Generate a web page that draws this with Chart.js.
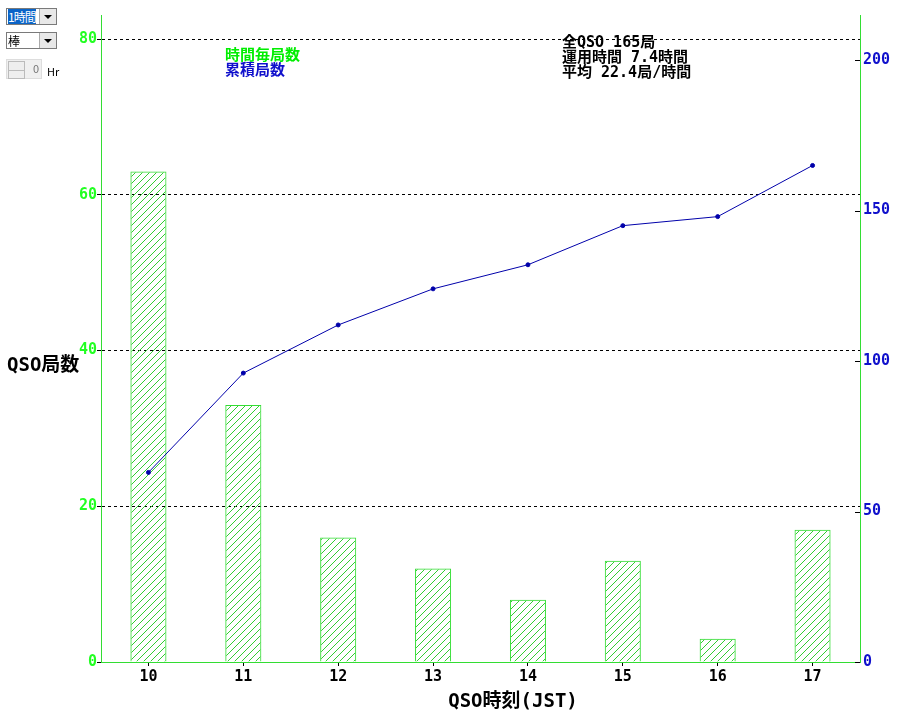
<!DOCTYPE html>
<html>
<head>
<meta charset="utf-8">
<script src="https://cdn.jsdelivr.net/npm/chart.js@4/dist/chart.umd.min.js"></script>
<style>
  body { margin: 0; background: #fff; }
  #wrap { position: relative; width: 899px; height: 713px; }
  canvas { position: absolute; left: 0; top: 0; }
  .ctl { position: absolute; font: 12px 'Noto Sans CJK JP', sans-serif; }
  .sel { border: 1px solid #7a7a7a; background: #fff; height: 17px; box-sizing: border-box; }
  .sel .v { position: absolute; left: 1px; top: 0px; line-height: 15px; padding: 0; letter-spacing: -1px; }
  .sel .b { position: absolute; right: 0; top: 0; width: 16px; height: 15px; background: #e8e8e8; border-left: 1px solid #aaa; }
  .sel .b:after { content: ""; position: absolute; left: 4px; top: 6px; border-left: 4px solid transparent; border-right: 4px solid transparent; border-top: 4px solid #000; }
</style>
</head>
<body>
<div id="wrap">
  <canvas id="chart" width="899" height="713"></canvas>
  <div class="ctl sel" style="left:6px;top:8px;width:51px;">
    <span class="v" style="background:#0a64c8;color:#fff;">1時間</span><span class="b"></span>
  </div>
  <div class="ctl sel" style="left:6px;top:32px;width:51px;">
    <span class="v">棒</span><span class="b"></span>
  </div>
  <div class="ctl" style="left:6px;top:59px;width:36px;height:20px;background:#f0f0f0;border:1px solid #ddd;box-sizing:border-box;">
    <div style="position:absolute;left:1px;top:1px;width:15px;height:8px;border:1px solid #bbb;background:#eee;"></div>
    <div style="position:absolute;left:1px;top:10px;width:15px;height:7px;border:1px solid #bbb;background:#eee;"></div>
    <span style="position:absolute;right:2px;top:0px;font-size:11px;color:#777;">0</span>
  </div>
  <div class="ctl" style="left:47px;top:63px;font-size:11px;">Hr</div>
</div>
<script>
// data
const hours = ["10", "11", "12", "13", "14", "15", "16", "17"];
const perHour = [63, 33, 16, 12, 8, 13, 3, 17];
const cumulative = [63, 96, 112, 124, 132, 145, 148, 165];
const leftTicks = [0, 20, 40, 60, 80];
const rightTicks = [0, 50, 100, 150, 200];
const summaryLines = ["全QSO 165局", "運用時間 7.4時間", "平均 22.4局/時間"];

const green = "#33dd33";
const tickGreen = "#22ff22";
const blue = "#1010cc";
const mono = "'DejaVu Sans Mono', 'Noto Sans CJK JP', monospace";
const jp = "'Noto Sans CJK JP', 'DejaVu Sans Mono', sans-serif";

// hatch pattern, crisp pixels
function hatch() {
  const n = 7;
  const c = document.createElement("canvas");
  c.width = n; c.height = n;
  const g = c.getContext("2d");
  g.fillStyle = "#33cc33";
  for (let i = 0; i < n; i++) g.fillRect(i, n - 1 - i, 1, 1);
  return g.createPattern(c, "repeat");
}

const textPlugin = {
  id: "texts",
  afterDraw(chart) {
    const ctx = chart.ctx;
    ctx.save();
    ctx.textBaseline = "middle";
    ctx.textAlign = "left";
    ctx.font = "bold 15px " + jp;
    ctx.fillStyle = "#00ee00";
    ctx.fillText("時間毎局数", 225, 54);
    ctx.fillStyle = blue;
    ctx.fillText("累積局数", 225, 69);
    ctx.fillStyle = "#000";
    ctx.font = "bold 15px " + mono;
    summaryLines.forEach((t, i) => ctx.fillText(t, 562, 43 + i * 15));
    ctx.font = "bold 19px " + mono;
    ctx.fillText("QSO局数", 7, 366);
    ctx.textAlign = "center";
    ctx.fillText("QSO時刻(JST)", 513, 702);
    // short tick marks on the right axis, inside the plot
    const y2 = chart.scales.y2;
    ctx.strokeStyle = "#000";
    ctx.lineWidth = 1;
    ctx.beginPath();
    rightTicks.forEach((v) => {
      const py = Math.round(y2.getPixelForValue(v)) + 0.5;
      ctx.moveTo(y2.left - 5, py);
      ctx.lineTo(y2.left, py);
    });
    ctx.stroke();
    ctx.restore();
  }
};

new Chart(document.getElementById("chart"), {
  data: {
    labels: hours,
    datasets: [
      {
        type: "line",
        label: "累積局数",
        data: cumulative,
        yAxisID: "y2",
        borderColor: "#0000aa",
        backgroundColor: "#0000aa",
        borderWidth: 1,
        pointRadius: 2,
        tension: 0,
      },
      {
        type: "bar",
        label: "時間毎局数",
        data: perHour,
        yAxisID: "y",
        backgroundColor: hatch(),
        borderColor: green,
        borderWidth: 1,
        barPercentage: 0.38,
        categoryPercentage: 1,
      },
    ],
  },
  options: {
    responsive: false,
    animation: false,
    layout: { padding: { top: 15, left: 0, right: 0, bottom: 0 } },
    plugins: { legend: { display: false }, tooltip: { enabled: false } },
    scales: {
      x: {
        offset: true,
        afterFit: (s) => { s.height = 51; },
        grid: { offset: false, drawOnChartArea: false, color: "#000", tickLength: 4 },
        border: { color: green, width: 1 },
        ticks: { color: "#000", padding: 2, font: { family: mono, size: 15, weight: "bold" } },
      },
      y: {
        position: "left",
        min: 0,
        max: 83.1,
        afterFit: (s) => { s.width = 101; },
        afterBuildTicks: (s) => { s.ticks = leftTicks.map((v) => ({ value: v })); },
        ticks: { color: tickGreen, padding: 0, font: { family: mono, size: 15, weight: "bold" } },
        grid: {
          color: (c) => (c.tick && c.tick.value === 0 ? "rgba(0,0,0,0)" : "#000"),
          tickColor: "#000",
          tickLength: 4,
          lineWidth: 1,
        },
        border: { color: green, width: 1, dash: [3, 3] },
      },
      y2: {
        position: "right",
        min: 0,
        max: 215,
        afterFit: (s) => { s.width = 39; },
        afterBuildTicks: (s) => { s.ticks = rightTicks.map((v) => ({ value: v })); },
        ticks: { color: blue, padding: 3, font: { family: mono, size: 15, weight: "bold" } },
        grid: { drawOnChartArea: false, drawTicks: false },
        border: { color: green, width: 1 },
      },
    },
  },
  plugins: [textPlugin],
});
</script>
</body>
</html>
